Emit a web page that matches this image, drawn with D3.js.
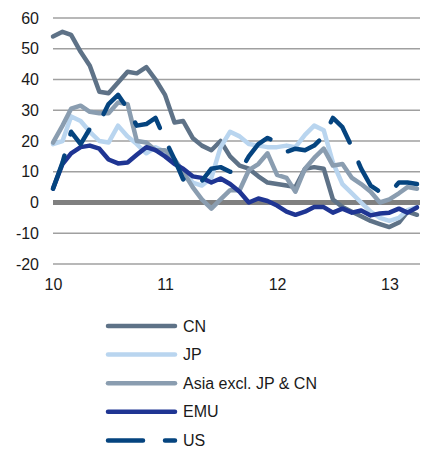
<!DOCTYPE html>
<html>
<head>
<meta charset="utf-8">
<script src="https://cdn.jsdelivr.net/npm/d3@7"></script>
<style>
  html, body { margin: 0; padding: 0; background: #fff; }
  #chart { width: 423px; height: 453px; }
</style>
</head>
<body>
<div id="chart"></div>
<script>
// monthly, Jan 2010 .. Apr 2013
var months = d3.timeMonth.range(new Date(2010, 0, 1), new Date(2013, 4, 1));
var yTicks = [-20, -10, 0, 10, 20, 30, 40, 50, 60];

var cn = [54, 55.5, 54.5, 49, 44.5, 36, 35.5, 39, 42.5, 42, 44, 40, 35, 26, 26.5, 21, 18.5, 17, 20, 15,
  12, 11, 8.5, 6.5, 6, 5.5, 5, 11, 11.5, 11, 1, -1.5, -3, -4.5, -6, -7, -8, -6.5, -3, -4];
var jp = [19, 20, 28, 26.5, 23, 20, 19.5, 25, 21.5, 19, 16, 18, 16.5, 14, 10, 6.5, 5.5, 8, 18, 23,
  21.5, 19, 18.5, 18, 18, 18.5, 18, 22, 25, 23.5, 13, 6, 3, 0, -3, -5, -6, -5, -2.5, -1.5];
var asia = [19.5, 25, 30.5, 31.5, 29.5, 29, 29, 32.5, 32, 20, 19.5, 17, 17, 14, 10, 5, 1, -2, 1, 4,
  4, 10.5, 12.5, 16, 9, 8, 3.5, 11, 14.5, 17.5, 12, 12.5, 8, 6, 3.5, 0, 1, 3, 5, 4.5];
var emu = [4.5, 12.5, 16, 18, 18.5, 17.5, 14, 12.7, 13, 15.5, 18, 17, 15, 12.5, 11, 8.5, 8, 6.5, 7.8, 6,
  3.5, 0, 1.3, 0.5, -1, -3, -4, -3, -1.5, -1.5, -3.3, -2, -3.3, -2.6, -4.2, -3.6, -3.3, -2, -3.3, -1.6];
var us = [4.5, 13, 23, 19, 24, 26, 32, 35, 30.5, 25, 25.5, 27.5, 20.5, 14, 7.5, 9, 7, 11, 11.5, 10,
  10, 15, 19, 21, 19.5, 16.5, 17.5, 17, 18.5, 21.5, 27.5, 24.5, 18, 11, 5.5, 3.5, 3, 6.5, 6.5, 6];

var seriesNames = ['CN', 'JP', 'Asia excl. JP & CN', 'EMU', 'US'];
var seriesValues = [cn, jp, asia, emu, us];
var seriesColors = ['#5e7287', '#b9d5ef', '#8a9db0', '#1f3593', '#05447f'];

var FONT = 'Liberation Sans, Arial, sans-serif';
var W = 423, H = 453;
var svg = d3.select('#chart').append('svg').attr('width', W).attr('height', H);

var x = d3.scaleTime().domain([months[0], months[months.length - 1]]).range([53, 417]);
var y = d3.scaleLinear().domain([-20, 60]).range([264, 18]);

// grid
svg.append('g').selectAll('line').data(yTicks).join('line')
  .attr('x1', 53).attr('x2', 420)
  .attr('y1', function(d) { return y(d); }).attr('y2', function(d) { return y(d); })
  .attr('stroke', function(d) { return d === 0 ? '#808080' : '#a0a0a0'; })
  .attr('stroke-width', function(d) { return d === 0 ? 5 : 1.5; });

// y labels
svg.append('g').selectAll('text').data(yTicks).join('text')
  .attr('x', 39).attr('y', function(d) { return y(d); })
  .attr('text-anchor', 'end').attr('dominant-baseline', 'central')
  .attr('font-family', FONT).attr('font-size', '16px').attr('fill', '#1a1a1a')
  .text(function(d) { return d; });

// x axis labels
var xAxis = d3.axisBottom(x).ticks(d3.timeYear.every(1)).tickFormat(d3.timeFormat('%y')).tickSize(0).tickPadding(0);
var gx = svg.append('g').attr('transform', 'translate(0,279)').call(xAxis);
gx.select('.domain').remove();
gx.selectAll('text').attr('font-family', FONT).attr('font-size', '16px').attr('fill', '#1a1a1a').attr('dy', '0.71em');

// lines
var line = d3.line()
  .x(function(d, i) { return x(months[i]); })
  .y(function(d) { return y(d); });

seriesValues.forEach(function(vals, k) {
  svg.append('path').datum(vals)
    .attr('d', line)
    .attr('fill', 'none')
    .attr('stroke', seriesColors[k])
    .attr('stroke-width', 4.5)
    .attr('stroke-linejoin', 'round')
    .attr('stroke-linecap', 'round')
    .attr('stroke-dasharray', seriesNames[k] === 'US' ? '35,22' : null);
});

// legend
var lg = svg.append('g').attr('transform', 'translate(108,326)');
seriesNames.forEach(function(name, k) {
  var row = lg.append('g').attr('transform', 'translate(0,' + (k * 28.6) + ')');
  row.append('line').attr('x1', 0).attr('x2', 67).attr('y1', 0).attr('y2', 0)
    .attr('stroke', seriesColors[k]).attr('stroke-width', 4.5).attr('stroke-linecap', 'round')
    .attr('stroke-dasharray', name === 'US' ? '35,22' : null);
  row.append('text').attr('x', 75).attr('y', 0).attr('dominant-baseline', 'central')
    .attr('font-family', FONT).attr('font-size', '16px').attr('fill', '#1a1a1a')
    .text(name);
});
</script>
</body>
</html>
